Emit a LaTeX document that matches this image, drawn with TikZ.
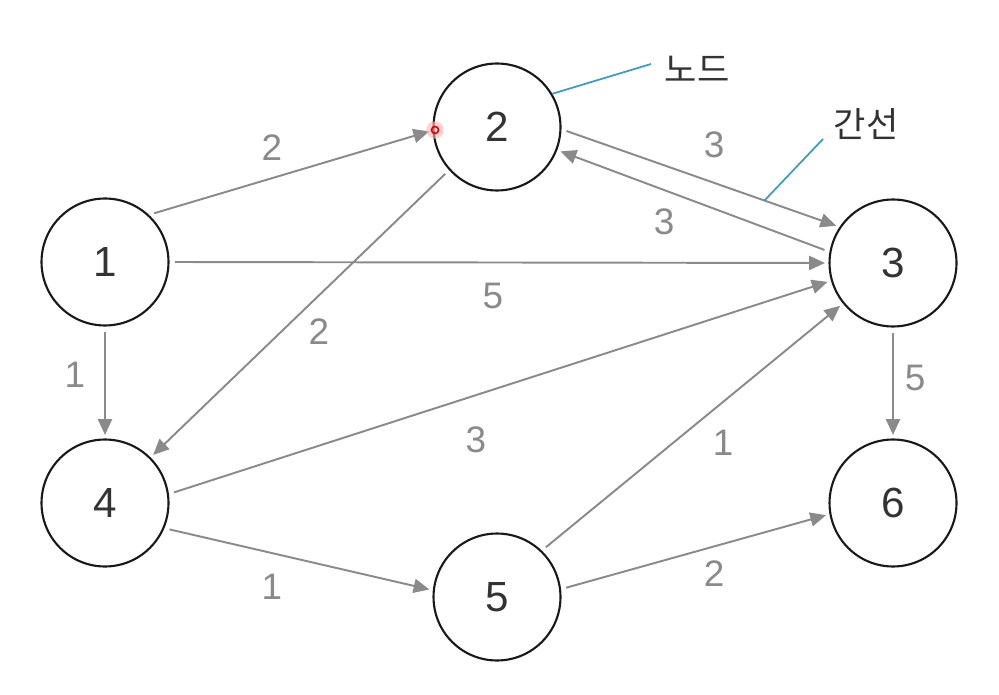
\documentclass[tikz,border=0pt]{standalone}
\usepackage{fontspec}
\setmainfont{Liberation Sans}
\newfontfamily\kofont{Noto Sans CJK KR}
\usetikzlibrary{arrows.meta}
\definecolor{edgegray}{HTML}{8A8A8A}
\definecolor{notecyan}{HTML}{3E9BC4}
\begin{document}
\begin{tikzpicture}[x=0.02cm,y=-0.02cm,
    vertex/.style={circle,draw=black!90,line width=1.2pt,minimum size=2.54cm,
      inner sep=0pt,text=black!80,font=\fontsize{24}{24}\selectfont},
    weight/.style={inner sep=0pt,text=edgegray,font=\fontsize{21}{21}\selectfont},
    note/.style={inner sep=0pt,text=black!80,font=\kofont\fontsize{20}{20}\selectfont}]
  \useasboundingbox (0,0) rectangle (999,695);
  \draw
    (105,262) node[vertex] (1){1}
    (497,127) node[vertex] (2){2}
    (893,263) node[vertex] (3){3}
    (105,503) node[vertex] (4){4}
    (497,597) node[vertex] (5){5}
    (893,503) node[vertex] (6){6};
  \begin{scope}[draw=edgegray,line width=1.1pt,
      -{Triangle[length=9pt,width=8pt]},shorten <=3pt,shorten >=2pt]
    \draw (1.47) to (2.183);
    \draw (2.-2) to coordinate[pos=0.73] (e23) (3.146);
    \draw (3.170) to (2.-21);
    \draw (1.0) to (3.180);
    \draw (2.222) to (4.45);
    \draw (1.270) to (4.90);
    \draw (4.8) to (3.196);
    \draw (5.46) to (3.219);
    \draw (3.270) to (6.90);
    \draw (4.-23) to (5.174);
    \draw (5.7) to (6.190);
  \end{scope}
  % edge weights
  \node[weight] (w12) at (272,148) {2};
  \node[weight] (w23) at (714,145) {3};
  \node[weight] (w32) at (664,222) {3};
  \node[weight] (w13) at (493,296) {5};
  \node[weight] (w24) at (319,332) {2};
  \node[weight] (w14) at (75,375) {1};
  \node[weight] (w43) at (476,440) {3};
  \node[weight] (w53) at (723,443) {1};
  \node[weight] (w36) at (915,378) {5};
  \node[weight] (w45) at (272,587) {1};
  \node[weight] (w56) at (714,574) {2};
  % callouts
  \node[note] (nodelbl) at (697,69) {노드};
  \node[note] (edgelbl) at (866,124) {간선};
  \coordinate (nodetip) at (651,64);
  \coordinate (edgetip) at (823,139);
  \draw[notecyan,line width=1pt] (2.31) -- (nodetip);
  \draw[notecyan,line width=1pt] (e23) -- (edgetip);
  % pointer
  \fill[red!30,opacity=0.6] (435,130) circle (5pt);
  \draw[red!85!black,line width=0.9pt] (435,130) circle (2pt);
\end{tikzpicture}
\end{document}
